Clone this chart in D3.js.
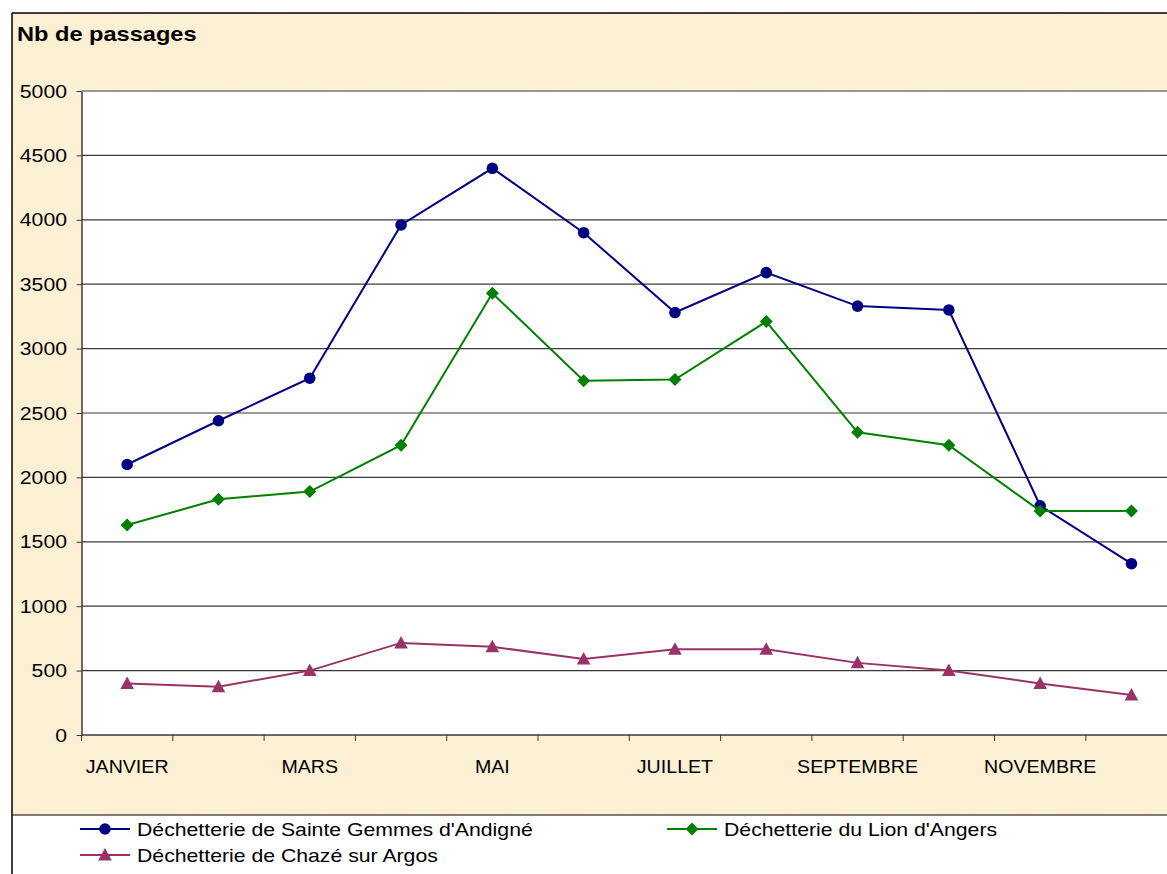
<!DOCTYPE html>
<html>
<head>
<meta charset="utf-8">
<script src="https://cdn.jsdelivr.net/npm/d3@7"></script>
<style>
  html, body { margin: 0; padding: 0; background: #fff; }
  svg { display: block; font-family: 'Liberation Sans', Arial, sans-serif; }
</style>
</head>
<body>
<svg id="chart" width="1167" height="874"></svg>
<script>
// months shown on the x axis (only every other one gets a label)
let months = ['JANVIER', 'FEVRIER', 'MARS', 'AVRIL', 'MAI', 'JUIN',
  'JUILLET', 'AOUT', 'SEPTEMBRE', 'OCTOBRE', 'NOVEMBRE', 'DECEMBRE'];
let yTicks = [0, 500, 1000, 1500, 2000, 2500, 3000, 3500, 4000, 4500, 5000];

let sainteGemmes = [2100, 2440, 2770, 3960, 4400, 3900, 3280, 3590, 3330, 3300, 1780, 1330];
let lionAngers = [1630, 1830, 1890, 2250, 3430, 2750, 2760, 3210, 2350, 2250, 1740, 1740];
let chaze = [400, 375, 500, 715, 685, 590, 665, 665, 560, 500, 400, 310];

let seriesNames = [
  'Déchetterie de Sainte Gemmes d\'Andigné',
  'Déchetterie du Lion d\'Angers',
  'Déchetterie de Chazé sur Argos'
];

let series = [
  { name: seriesNames[0], values: sainteGemmes, color: '#000080', marker: 'circle' },
  { name: seriesNames[1], values: lionAngers, color: '#008000', marker: 'diamond' },
  { name: seriesNames[2], values: chaze, color: '#993366', marker: 'triangle' }
];

let svg = d3.select('#chart');
let width = +svg.attr('width');
let height = +svg.attr('height');
let stretch = 1.18; // the original picture is a bit wider than tall

// text helper: stretched horizontally like the original
function label(parent, tx, ty, str, size, anchor, bold, sx) {
  return parent.append('text')
    .attr('transform', 'translate(' + tx + ',' + ty + ') scale(' + (sx || stretch) + ',1)')
    .attr('text-anchor', anchor || 'start')
    .attr('font-size', size)
    .attr('font-weight', bold ? 'bold' : 'normal')
    .attr('fill', '#000')
    .text(str);
}

// parchment texture
let defs = svg.append('defs');
let filt = defs.append('filter').attr('id', 'paper')
  .attr('x', 0).attr('y', 0).attr('width', '100%').attr('height', '100%');
filt.append('feTurbulence').attr('type', 'fractalNoise')
  .attr('baseFrequency', '0.012 0.02').attr('numOctaves', 3).attr('seed', 4)
  .attr('result', 'noise');
filt.append('feColorMatrix').attr('in', 'noise').attr('type', 'matrix')
  .attr('values', '0 0 0 0 0.95  0 0 0 0 0.86  0 0 0 0 0.66  0 0 0 0.45 0')
  .attr('result', 'tint');
filt.append('feComposite').attr('in', 'tint').attr('in2', 'SourceGraphic').attr('operator', 'in');

let frameTop = 13, frameLeft = 12, legendTop = 815;

svg.append('rect')
  .attr('x', frameLeft).attr('y', frameTop)
  .attr('width', width - frameLeft).attr('height', legendTop - frameTop)
  .attr('fill', '#fcefd4');
svg.append('rect')
  .attr('x', frameLeft).attr('y', frameTop)
  .attr('width', width - frameLeft).attr('height', legendTop - frameTop)
  .attr('fill', '#fcefd4')
  .attr('filter', 'url(#paper)');

let marge = { top: 91, bottom: 735, left: 81.5 };
let band = 91.3;

let x = d3.scaleBand()
  .domain(months)
  .range([marge.left, marge.left + band * months.length]);
let y = d3.scaleLinear()
  .domain([0, 5000])
  .range([marge.bottom, marge.top]);

// plot area
svg.append('rect')
  .attr('x', marge.left).attr('y', marge.top)
  .attr('width', width - marge.left).attr('height', marge.bottom - marge.top)
  .attr('fill', '#ffffff');

// gridlines
svg.append('g')
  .selectAll('line')
  .data(yTicks.filter(function(d) { return d > 0; }))
  .enter()
  .append('line')
  .attr('x1', marge.left).attr('x2', width)
  .attr('y1', function(d) { return y(d); })
  .attr('y2', function(d) { return y(d); })
  .attr('stroke', '#3a3a3a')
  .attr('stroke-width', 1.2);

// y axis (labels drawn by hand so they can be stretched)
let yAxis = svg.append('g')
  .attr('transform', 'translate(' + marge.left + ',0)')
  .call(d3.axisLeft(y).tickValues(yTicks).tickSize(5).tickSizeOuter(0).tickFormat(''));
yAxis.select('.domain').attr('stroke', '#3a3a3a').attr('stroke-width', 1.5);
yAxis.selectAll('.tick line').attr('stroke', '#3a3a3a');
let yLabels = svg.append('g');
yTicks.forEach(function(t) {
  label(yLabels, 67, y(t) + 6.5, d3.format('d')(t), 18, 'end');
});

// x axis: ticks at band boundaries
let xAxis = svg.append('g')
  .attr('transform', 'translate(0,' + marge.bottom + ')');
xAxis.append('line')
  .attr('x1', marge.left).attr('x2', width)
  .attr('stroke', '#3a3a3a').attr('stroke-width', 1.5);
xAxis.selectAll('.xt')
  .data(months)
  .enter()
  .append('line')
  .attr('class', 'xt')
  .attr('x1', function(d) { return x(d); })
  .attr('x2', function(d) { return x(d); })
  .attr('y1', 0).attr('y2', 6)
  .attr('stroke', '#3a3a3a');
months.forEach(function(m, i) {
  if (i % 2 == 0)
    label(xAxis, x(m) + x.bandwidth() / 2, 38, m, 18, 'middle', false, 1.09);
});

// title
label(svg, 17, 41, 'Nb de passages', 20, 'start', true);

function drawMarker(sel, type, color) {
  if (type == 'circle') {
    sel.append('circle').attr('r', 5.8).attr('fill', color);
  } else if (type == 'diamond') {
    sel.append('path').attr('d', 'M0,-6.5L6.5,0L0,6.5L-6.5,0Z').attr('fill', color);
  } else {
    sel.append('path').attr('d', 'M0,-7L6.8,5.5L-6.8,5.5Z').attr('fill', color);
  }
}

let line = d3.line()
  .x(function(d, i) { return x(months[i]) + x.bandwidth() / 2; })
  .y(function(d) { return y(d); });

let plot = svg.append('g');
series.forEach(function(s) {
  plot.append('path')
    .datum(s.values)
    .attr('d', line)
    .attr('fill', 'none')
    .attr('stroke', s.color)
    .attr('stroke-width', 2);
  let pts = plot.append('g')
    .selectAll('g')
    .data(s.values)
    .enter()
    .append('g')
    .attr('transform', function(d, i) {
      return 'translate(' + (x(months[i]) + x.bandwidth() / 2) + ',' + y(d) + ')';
    });
  drawMarker(pts, s.marker, s.color);
});

// frame lines
svg.append('line')
  .attr('x1', frameLeft).attr('x2', width)
  .attr('y1', frameTop).attr('y2', frameTop)
  .attr('stroke', '#000').attr('stroke-width', 1.5);
svg.append('line')
  .attr('x1', frameLeft).attr('x2', frameLeft)
  .attr('y1', frameTop).attr('y2', height)
  .attr('stroke', '#000').attr('stroke-width', 1.5);
svg.append('line')
  .attr('x1', frameLeft).attr('x2', width)
  .attr('y1', legendTop).attr('y2', legendTop)
  .attr('stroke', '#000').attr('stroke-width', 1.2);

// legend
let legendPos = [[80, 829], [667, 829], [80, 855]];
series.forEach(function(s, i) {
  let lg = svg.append('g')
    .attr('transform', 'translate(' + legendPos[i][0] + ',' + legendPos[i][1] + ')');
  lg.append('line')
    .attr('x1', 0).attr('x2', 50)
    .attr('stroke', s.color).attr('stroke-width', 2);
  let m = lg.append('g').attr('transform', 'translate(25,0)');
  drawMarker(m, s.marker, s.color);
  label(lg, 57, 6.5, s.name, 18, 'start');
});
</script>
</body>
</html>
